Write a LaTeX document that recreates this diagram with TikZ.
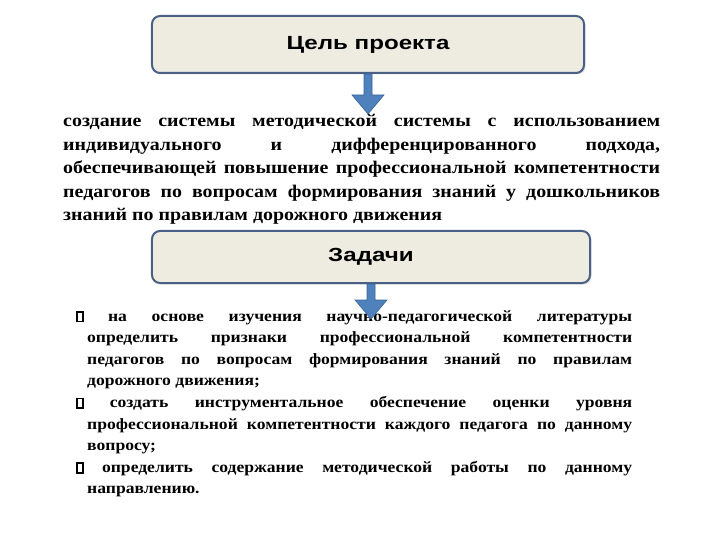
\documentclass[tikz,border=0pt]{standalone}
\usepackage{fontspec}
\setmainfont{Liberation Serif}[FakeStretch=1.12]
\setsansfont{Liberation Sans}[FakeStretch=1.27]
\usetikzlibrary{calc,shadows}
\definecolor{boxfill}{HTML}{EEECE1}
\definecolor{boxline}{HTML}{4A6085}
\definecolor{arrfill}{HTML}{4F81BD}
\definecolor{arrline}{HTML}{3A6596}
\newcommand{\nobullet}{{\fboxsep=0pt\fboxrule=1.4bp\fbox{\rule{0pt}{8.5bp}\hspace{4.5bp}}}}

\begin{document}
\begin{tikzpicture}[x=1bp,y=-1bp,
    headbox/.style={draw=boxline,line width=2bp,fill=boxfill,rounded corners=8bp,
        drop shadow={opacity=0.25,shadow xshift=1.5bp,shadow yshift=-1.5bp},
        font={\fontsize{19bp}{22bp}\sffamily\bfseries}},
    plaintext/.style={inner sep=0pt,anchor=base west,align=justify,
        execute at begin node={\bfseries\tolerance=9999\hyphenpenalty=10000}},
    blockarrow/.style={fill=arrfill,draw=arrline,line width=0.6bp,line join=miter}]
\useasboundingbox (0,0) rectangle (720,540);

\node[headbox,minimum width=432bp,minimum height=57bp] (goal) at (368,44.5) {Цель проекта};
\node[plaintext,text width=597bp,font={\fontsize{17.8bp}{23.5bp}\selectfont}] (aim) at (63,127)
{создание системы методической системы с использованием\linebreak
индивидуального и дифференцированного подхода,\linebreak
обеспечивающей повышение профессиональной компетентности\linebreak
педагогов по вопросам формирования знаний у дошкольников\linebreak
знаний по правилам дорожного движения};

\node[headbox,minimum width=438bp,minimum height=52bp] (tasks) at (371,257) {Задачи};
\node[plaintext,text width=556bp,font={\fontsize{15.7bp}{21.6bp}\selectfont}] (list) at (76,321)
{\hangindent=11bp\hangafter=1
\nobullet\ на основе изучения научно-педагогической литературы\linebreak
определить признаки профессиональной компетентности\linebreak
педагогов по вопросам формирования знаний по правилам\linebreak
дорожного движения;\par
\hangindent=11bp\hangafter=1
\nobullet\ создать инструментальное обеспечение оценки уровня\linebreak
профессиональной компетентности каждого педагога по данному\linebreak
вопросу;\par
\hangindent=11bp\hangafter=1
\nobullet\ определить содержание методической работы по данному\linebreak
направлению.\par};

\foreach \src/\len/\tip in {goal/40/tipA,tasks/35/tipB}{
  \path (\src.south) ++(0,\len) coordinate (\tip);
  \draw[blockarrow] ($(\src.south)+(-4,0)$) -- ($(\tip)+(-4,-19)$) -- ($(\tip)+(-16,-19)$)
    -- (\tip) -- ($(\tip)+(16,-19)$) -- ($(\tip)+(4,-19)$) -- ($(\src.south)+(4,0)$) -- cycle;
}
\end{tikzpicture}
\end{document}
